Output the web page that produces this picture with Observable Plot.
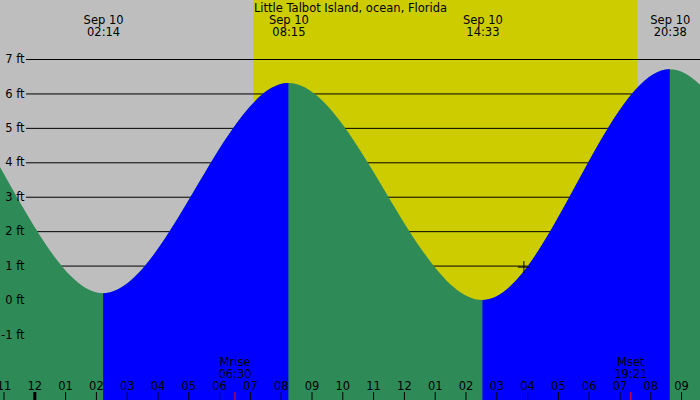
<!DOCTYPE html>
<html>
<head>
<meta charset="utf-8">
<script src="https://cdn.jsdelivr.net/npm/d3@7"></script>
<script src="https://cdn.jsdelivr.net/npm/@observablehq/plot@0.6"></script>
<style>
  html, body { margin: 0; padding: 0; background: #fff; }
  svg { display: block; }
</style>
</head>
<body>
<div id="chart"></div>
<script>
// ---- Data (hours relative to midnight, Sep 10) ----
const title = "Little Talbot Island, ocean, Florida";

// tide extremes (first and last two are just off-screen)
const tideTimes   = [-10.4, -4.0, 2.233, 8.25, 14.55, 20.633, 26.8, 33.0];
const tideHeights = [0.1, 6.8, 0.2, 6.3, 0.0, 6.7, 0.1, 6.6];

// labelled tide events
const eventTimes  = [2.233, 8.25, 14.55, 20.633];
const eventLabels = ["Sep 10\n02:14", "Sep 10\n08:15", "Sep 10\n14:33", "Sep 10\n20:38"];

// sun
const sunrise = 7.11;
const sunset  = 19.58;

// moon
const moonTimes  = [6.5, 19.35];
const moonLabels = ["Mrise\n06:30", "Mset\n19:21"];

// y axis
const ftTicks  = [7, 6, 5, 4, 3, 2, 1, 0, -1];
const ftLabels = ["7 ft", "6 ft", "5 ft", "4 ft", "3 ft", "2 ft", "1 ft", "0 ft", "-1 ft"];

// x axis (hours)
const hourTicks  = [-1, 0, 1, 2, 3, 4, 5, 6, 7, 8, 9, 10, 11, 12, 13, 14, 15, 16, 17, 18, 19, 20, 21];
const hourLabels = ["11", "12", "01", "02", "03", "04", "05", "06", "07", "08", "09", "10", "11", "12", "01", "02", "03", "04", "05", "06", "07", "08", "09"];
const midnightTicks = [0];

// marker
const markerTime = [15.88];
const markerHeight = [0.97];

// ---- Build ----
const tides = tideTimes.map((t, i) => ({t, h: tideHeights[i]}));
const events = eventTimes.map((t, i) => ({t, label: eventLabels[i]}));
const moon = moonTimes.map((t, i) => ({t, label: moonLabels[i]}));
const yTicks = ftTicks.map((v, i) => ({v, label: ftLabels[i]}));
const xTicks = hourTicks.map((v, i) => ({v, label: hourLabels[i]}));
const marker = markerTime.map((t, i) => ({t, h: markerHeight[i]}));

const GREEN = "#2E8B57", BLUE = "#0000FF", GRAY = "#BEBEBE", YELLOW = "#CCCC00";
const FS = 11.5;

const chart = Plot.plot({
  width: 700,
  height: 400,
  margin: 0,
  x: {domain: [-1.114, 21.614], axis: null},
  y: {domain: [-2.904, 8.714], axis: null},
  style: {fontFamily: "DejaVu Sans", fontSize: FS + "px", background: GRAY},
  marks: [
    Plot.frame({fill: GRAY, stroke: null}),
    Plot.rect([{a: sunrise, b: sunset}], {x1: "a", x2: "b", fill: YELLOW}),
    Plot.ruleY(yTicks, {y: "v", stroke: "black", strokeWidth: 1, insetLeft: 26}),
    Plot.areaY(tides, {x: "t", y1: -3.5, y2: "h", curve: "monotone-x", fill: GREEN, clip: true}),
    Plot.areaY(tides, {x: "t", y1: -3.5, y2: "h", curve: "monotone-x", fill: BLUE, clip: true}),
    Plot.dot(marker, {x: "t", y: "h", symbol: "plus", r: 4, stroke: "black", strokeWidth: 1}),
    Plot.text([title], {frameAnchor: "top", lineAnchor: "middle", dy: 7.5, text: d => d, fontSize: FS, fill: "black"}),
    Plot.text(events, {x: "t", frameAnchor: "top", lineAnchor: "middle", dy: 25.8, text: "label", fontSize: FS, lineHeight: 1.04, fill: "black"}),
    Plot.text(yTicks, {y: "v", frameAnchor: "left", lineAnchor: "middle", dx: 24, textAnchor: "end", text: "label", fontSize: FS, fill: "black"}),
    Plot.text(moon, {x: "t", frameAnchor: "bottom", lineAnchor: "middle", dy: -32.5, text: "label", fontSize: FS, lineHeight: 1.01, fill: "black"}),
    Plot.text(xTicks, {x: "v", frameAnchor: "bottom", lineAnchor: "middle", dy: -14.3, text: "label", fontSize: FS, fill: "black"}),
    Plot.ruleX(xTicks, {x: "v", insetTop: 392, stroke: "black", strokeWidth: 1}),
    Plot.ruleX(midnightTicks, {x: d => d, insetTop: 392, stroke: "black", strokeWidth: 3}),
    Plot.ruleX(moon, {x: "t", insetTop: 392, stroke: "red", strokeWidth: 1})
  ]
});

// clip the blue area to rising-tide intervals, using the plot's x scale
(function () {
  const xs = chart.scale("x");
  const svg = d3.select(chart.tagName.toLowerCase() === "svg" ? chart : chart.querySelector("svg"));
  const defs = svg.insert("defs", ":first-child");
  const cp = defs.append("clipPath").attr("id", "rising-clip");
  for (let i = 0; i + 1 < tides.length; i++) {
    if (tides[i + 1].h > tides[i].h) {
      const x1 = xs.apply(tides[i].t), x2 = xs.apply(tides[i + 1].t);
      cp.append("rect").attr("x", x1).attr("y", -10).attr("width", x2 - x1).attr("height", 420);
    }
  }
  const areas = svg.selectAll("g[aria-label='area']").nodes();
  if (areas.length >= 2) {
    const wrap = d3.select(areas[1].parentNode).insert("g", () => areas[1]).attr("clip-path", "url(#rising-clip)");
    wrap.node().appendChild(areas[1]);
  }
})();

document.getElementById("chart").appendChild(chart);
</script>
</body>
</html>
